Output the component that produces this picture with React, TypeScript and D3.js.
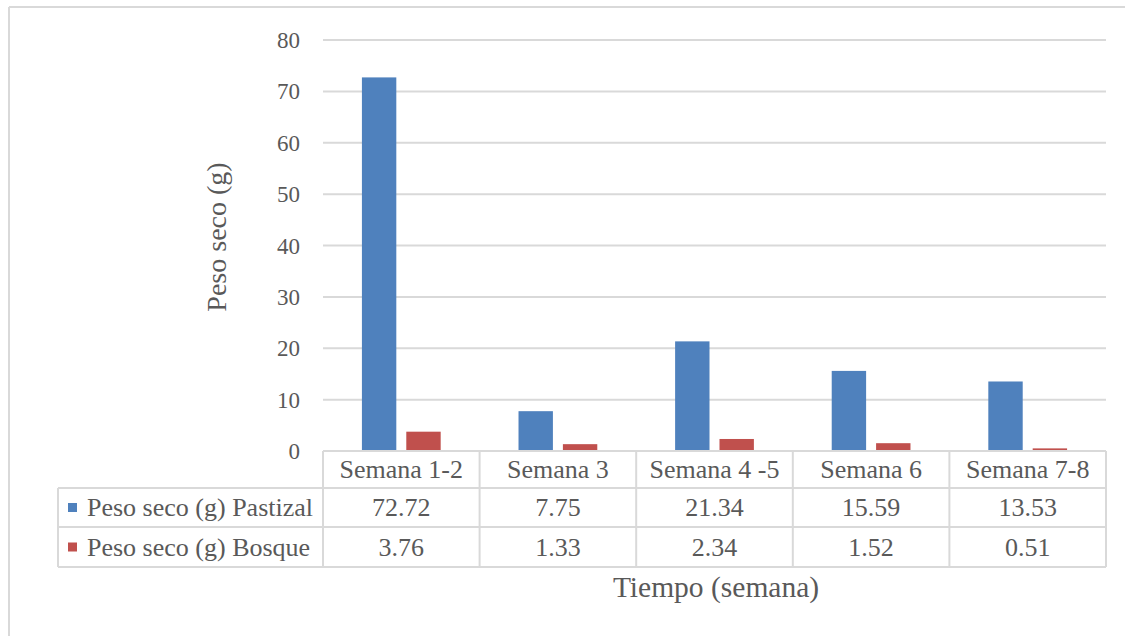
import React from "react";
import * as d3 from "d3";

const categories = ["Semana 1-2", "Semana 3", "Semana 4 -5", "Semana 6", "Semana 7-8"];
const seriesNames = ["Peso seco (g) Pastizal", "Peso seco (g) Bosque"];
const pastizal = [72.72, 7.75, 21.34, 15.59, 13.53];
const bosque = [3.76, 1.33, 2.34, 1.52, 0.51];
const tableLabels = [
  ["72.72", "7.75", "21.34", "15.59", "13.53"],
  ["3.76", "1.33", "2.34", "1.52", "0.51"],
];
const yTicks = [0, 10, 20, 30, 40, 50, 60, 70, 80];
const colors = ["#4f81bd", "#c0504d"];

const W = 1125;
const H = 636;
const plotLeft = 323;
const plotRight = 1106;
const plotTop = 40;
const plotBottom = 451;
const tableLeft = 58;
const rowEdges = [451, 488, 527, 567];
const textColor = "#595959";
const lineColor = "#d9d9d9";
const font = "Liberation Serif, DejaVu Serif, serif";
const tableFont = 26;

export default function App() {
  const series = [pastizal, bosque];
  const y = d3.scaleLinear().domain([0, 80]).range([plotBottom, plotTop]);
  const xCol = d3.scaleBand<string>().domain(categories).range([plotLeft, plotRight]).padding(0);
  const x = d3
    .scaleBand<string>()
    .domain(categories)
    .range([plotLeft, plotRight])
    .paddingInner(0.497)
    .paddingOuter(0.2485);
  const xSub = d3
    .scaleBand<string>()
    .domain(seriesNames)
    .range([0, x.bandwidth()])
    .paddingInner(0.225);

  const colEdges = [...categories.map((c) => xCol(c) as number), plotRight];

  return (
    <svg
      width={W}
      height={H}
      style={{ position: "absolute", left: 0, top: 0, background: "#fff", fontFamily: font }}
    >
      <rect x={0} y={0} width={W} height={H} fill="#fff" />
      {/* outer frame */}
      <line x1={9} y1={7} x2={W} y2={7} stroke={lineColor} strokeWidth={2} />
      <line x1={9} y1={7} x2={9} y2={H} stroke={lineColor} strokeWidth={2} />

      {/* gridlines */}
      {yTicks.map((t) => (
        <g key={t}>
          {t > 0 && (
            <line x1={plotLeft} x2={plotRight} y1={y(t)} y2={y(t)} stroke={lineColor} strokeWidth={2} />
          )}
          <text x={300} y={y(t) + 8} textAnchor="end" fontSize={23} fill={textColor} style={{ fontFamily: font }}>
            {t}
          </text>
        </g>
      ))}

      {/* bars */}
      {categories.map((c, i) => (
        <g key={c}>
          {series.map((s, j) => (
            <rect
              key={j}
              x={(x(c) as number) + (xSub(seriesNames[j]) as number)}
              y={y(s[i])}
              width={xSub.bandwidth()}
              height={y(0) - y(s[i])}
              fill={colors[j]}
            />
          ))}
        </g>
      ))}

      {/* data table lines */}
      <line x1={plotLeft} x2={plotRight} y1={rowEdges[0]} y2={rowEdges[0]} stroke={lineColor} strokeWidth={2} />
      {rowEdges.slice(1).map((ry) => (
        <line key={ry} x1={tableLeft} x2={plotRight} y1={ry} y2={ry} stroke={lineColor} strokeWidth={2} />
      ))}
      <line x1={tableLeft} x2={tableLeft} y1={rowEdges[1]} y2={rowEdges[3]} stroke={lineColor} strokeWidth={2} />
      {colEdges.map((cx, k) => (
        <line key={k} x1={cx} x2={cx} y1={rowEdges[0]} y2={rowEdges[3]} stroke={lineColor} strokeWidth={2} />
      ))}

      {/* category header */}
      {categories.map((c) => (
        <text
          key={c}
          x={(xCol(c) as number) + xCol.bandwidth() / 2}
          y={(rowEdges[0] + rowEdges[1]) / 2 + 8.5}
          textAnchor="middle"
          fontSize={tableFont}
          fill={textColor}
          style={{ fontFamily: font }}
        >
          {c}
        </text>
      ))}

      {/* series rows */}
      {seriesNames.map((name, j) => {
        const cy = (rowEdges[j + 1] + rowEdges[j + 2]) / 2;
        return (
          <g key={name}>
            <rect x={68} y={cy - 4.5} width={9} height={9} fill={colors[j]} />
            <text x={87} y={cy + 8.5} fontSize={tableFont} fill={textColor} style={{ fontFamily: font }}>
              {name}
            </text>
            {categories.map((c, i) => (
              <text
                key={c}
                x={(xCol(c) as number) + xCol.bandwidth() / 2}
                y={cy + 8.5}
                textAnchor="middle"
                fontSize={tableFont}
                fill={textColor}
                style={{ fontFamily: font }}
              >
                {tableLabels[j][i]}
              </text>
            ))}
          </g>
        );
      })}

      {/* axis titles */}
      <text
        transform={`translate(226, 237) rotate(-90)`}
        textAnchor="middle"
        fontSize={28}
        fill={textColor}
        style={{ fontFamily: font }}
      >
        Peso seco (g)
      </text>
      <text x={716} y={597} textAnchor="middle" fontSize={29.5} fill={textColor} style={{ fontFamily: font }}>
        Tiempo (semana)
      </text>
    </svg>
  );
}
